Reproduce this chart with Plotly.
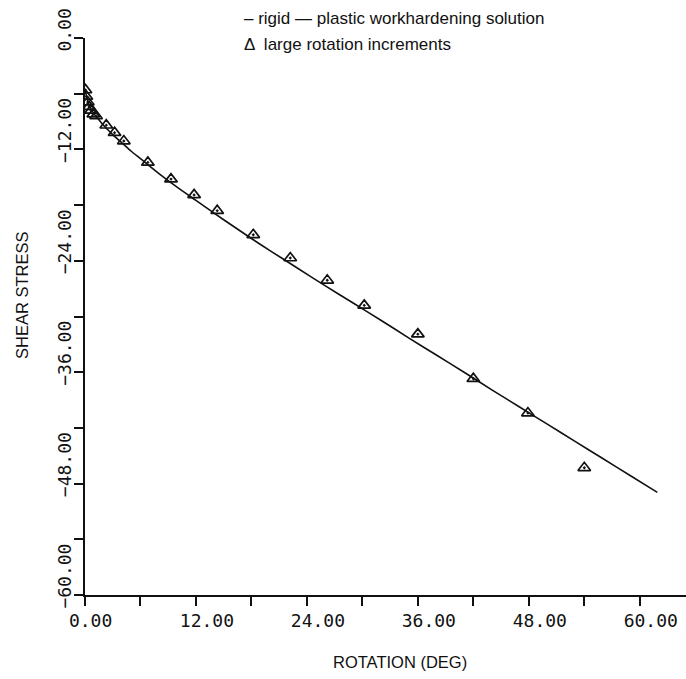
import plotly.graph_objects as go

# Rigid-plastic workhardening solution (curve)
curve_rot = [0, 0.25, 0.5, 1, 1.5, 2, 3, 4, 5, 6, 8, 10, 12, 14, 16, 18, 20, 23, 26, 29,
             32, 35, 38, 41, 44, 47, 50, 53, 56, 59, 61.9]
curve_tau = [-5.5, -6.6, -7.3, -8.2, -8.8, -9.4, -10.4, -11.3, -12.2, -13.0, -14.6, -16.1,
             -17.5, -18.9, -20.25, -21.6, -22.9, -24.8, -26.7, -28.55, -30.4, -32.3, -34.15,
             -36.0, -37.9, -39.75, -41.6, -43.45, -45.3, -47.15, -48.95]

# Large rotation increments (triangles)
pts_rot = [0.05, 0.15, 0.3, 0.45, 0.65, 0.9, 1.2, 2.3, 3.2, 4.2, 6.8, 9.3, 11.8, 14.3,
           18.2, 22.2, 26.2, 30.2, 36.0, 42.0, 47.9, 54.0]
pts_tau = [-5.6, -6.3, -6.9, -7.4, -7.8, -8.2, -8.4, -9.4, -10.2, -11.1, -13.4, -15.2,
           -16.9, -18.6, -21.2, -23.7, -26.1, -28.8, -31.9, -36.7, -40.4, -46.3]

# Axis ticks and labels (labels start just before the tick, as on the plotter)
x_tickvals = [0, 12, 24, 36, 48, 60]
x_ticktext = ["0.00\u00a0", "12.00", "24.00", "36.00", "48.00", "60.00"]
x_minor = [6, 18, 30, 42, 54]
y_tickvals = [0, -12, -24, -36, -48, -60]
y_ticktext = ["\u00a00.00", "\u00a0\u00a0\u00a0\u221212.00", "\u00a0\u00a0\u00a0\u221224.00",
              "\u00a0\u00a0\u00a0\u221236.00", "\u00a0\u00a0\u00a0\u221248.00",
              "\u00a0\u00a0\u00a0\u221260.00"]
y_minor = [-6, -18, -30, -42, -54]

fig = go.Figure()
fig.add_trace(go.Scatter(x=curve_rot, y=curve_tau, mode="lines",
                         line=dict(color="#111", width=1.6, shape="spline", smoothing=0.8),
                         hoverinfo="skip"))
fig.add_trace(go.Scatter(x=pts_rot, y=pts_tau, mode="markers",
                         marker=dict(symbol="triangle-up-open-dot", size=11,
                                     color="#111", line=dict(color="#111", width=1.7))))

tickfont = dict(family="DejaVu Sans Mono", size=18, color="#111")
axis_common = dict(showline=True, linecolor="#111", linewidth=1.5, ticks="outside",
                   ticklen=9, tickwidth=1.5, tickcolor="#111", showgrid=False,
                   zeroline=False, tickfont=tickfont, tickmode="array")

fig.update_xaxes(range=[0, 65], tickvals=x_tickvals, ticktext=x_ticktext,
                 ticklabelshift=11,
                 minor=dict(tickmode="array", tickvals=x_minor, ticks="outside", ticklen=9,
                            tickwidth=1.5, tickcolor="#111", showgrid=False),
                 **axis_common)
fig.update_yaxes(range=[-60, 0], tickvals=y_tickvals, ticktext=y_ticktext, tickangle=-90,
                 ticklabelstandoff=-4,
                 minor=dict(tickmode="array", tickvals=y_minor, ticks="outside", ticklen=9,
                            tickwidth=1.5, tickcolor="#111", showgrid=False),
                 **axis_common)

sans = "Liberation Sans, Arial, sans-serif"
fs = 16.5
fig.update_layout(
    width=686, height=679,
    margin=dict(l=85, r=0, t=38, b=84),
    plot_bgcolor="white", paper_bgcolor="white",
    showlegend=False,
    annotations=[
        dict(text="ROTATION (DEG)", xref="paper", yref="paper", x=(400 - 85) / 601,
             y=-(662 - 595) / 557, xanchor="center", yanchor="middle", showarrow=False,
             font=dict(family=sans, size=fs, color="#111")),
        dict(text="SHEAR STRESS", xref="paper", yref="paper", x=-(85 - 22) / 601,
             y=(595 - 296) / 557, xanchor="center", yanchor="middle", showarrow=False,
             textangle=-90, font=dict(family=sans, size=fs, color="#111")),
        dict(text="– rigid — plastic workhardening solution", xref="paper",
             yref="paper", x=(242 - 85) / 601, y=(595 - 18) / 557, xanchor="left",
             yanchor="middle", showarrow=False, font=dict(family=sans, size=17, color="#111")),
        dict(text="Δ \u00a0large rotation increments", xref="paper", yref="paper",
             x=(242 - 85) / 601, y=(595 - 44) / 557, xanchor="left", yanchor="middle",
             showarrow=False, font=dict(family=sans, size=17, color="#111")),
    ],
)

fig.write_html("out.html")
